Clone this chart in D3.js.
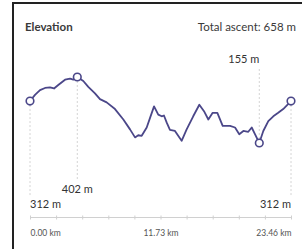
<!DOCTYPE html>
<html>
<head>
<meta charset="utf-8">
<script src="https://cdn.jsdelivr.net/npm/d3@7"></script>
<style>
  body { margin: 0; background: #fff; }
  svg { display: block; font-family: Lato, "Open Sans", sans-serif; }
</style>
</head>
<body>
<div id="chart"></div>
<script>
// elevation profile
var distanceKm = [0.00, 0.45, 0.90, 1.35, 1.80, 2.16, 2.54, 3.15, 3.60, 3.89, 4.25, 4.79, 5.24, 5.84,
  6.29, 6.89, 7.64, 8.39, 8.99, 9.44, 9.73, 10.04, 10.49, 10.79, 11.15, 11.53, 11.84, 12.04, 12.29,
  12.58, 13.03, 13.63, 14.08, 14.67, 15.22, 15.64, 16.03, 16.42, 16.84, 17.32, 17.98, 18.43, 18.81,
  19.18, 19.62, 19.93, 20.22, 20.61, 20.97, 21.42, 21.87, 22.31, 22.76, 23.46];
var elevationM = [312, 335, 353, 361, 363, 359, 372, 392, 396, 392, 402, 387, 365, 341,
  319, 307, 282, 243, 206, 176, 184, 182, 213, 249, 292, 261, 255, 258, 231,
  204, 200, 163, 206, 255, 298, 274, 243, 268, 268, 219, 219, 213, 188,
  200, 197, 213, 188, 155, 200, 237, 255, 268, 282, 312];
var tickLabels = ['0.00 km', '11.73 km', '23.46 km'];
var title = 'Elevation';
var totalAscent = 'Total ascent: 658 m';

var W = 302, H = 249;
var lineColor = '#4b4789';

var svg = d3.select('#chart').append('svg').attr('width', W).attr('height', H);

// frame
svg.append('path')
  .attr('d', 'M13,' + H + 'V3H' + W)
  .attr('fill', 'none')
  .attr('stroke', '#222')
  .attr('stroke-width', 2);

svg.append('text').attr('x', 25).attr('y', 31)
  .attr('font-size', 11.5).attr('font-weight', 700).attr('fill', '#3a3a3a')
  .text(title);
svg.append('text').attr('x', 296).attr('y', 31).attr('text-anchor', 'end')
  .attr('font-size', 11.5).attr('fill', '#3a3a3a')
  .text(totalAscent);

var x = d3.scaleLinear().domain([0, d3.max(distanceKm)]).range([30, 291]);
var y = d3.scaleLinear().domain([155, 402]).range([143, 77]);

var data = distanceKm.map(function (d, i) { return { km: d, m: elevationM[i] }; });
var startPt = data[0], endPt = data[data.length - 1];
var peakPt = data[d3.maxIndex(data, function (d) { return d.m; })];
var lowPt = data[d3.minIndex(data, function (d) { return d.m; })];

// dotted guides
var guides = [
  { p: startPt, y2: 196 },
  { p: peakPt, y2: 179 },
  { p: lowPt, y2: 67 },
  { p: endPt, y2: 196 }
];
svg.selectAll('.guide').data(guides).enter().append('line')
  .attr('class', 'guide')
  .attr('x1', function (d) { return x(d.p.km); })
  .attr('x2', function (d) { return x(d.p.km); })
  .attr('y1', function (d) { return y(d.p.m); })
  .attr('y2', function (d) { return d.y2; })
  .attr('stroke', '#d4d4d4')
  .attr('stroke-dasharray', '2,2');

svg.append('path').datum(data)
  .attr('fill', 'none')
  .attr('stroke', lineColor)
  .attr('stroke-width', 1.8)
  .attr('stroke-linejoin', 'round')
  .attr('d', d3.line().x(function (d) { return x(d.km); }).y(function (d) { return y(d.m); }));

svg.selectAll('.mark').data([startPt, peakPt, lowPt, endPt]).enter().append('circle')
  .attr('cx', function (d) { return x(d.km); })
  .attr('cy', function (d) { return y(d.m); })
  .attr('r', 3.8)
  .attr('fill', '#fff')
  .attr('stroke', lineColor)
  .attr('stroke-width', 1.6);

// value labels
var labels = [
  { p: startPt, y: 208, anchor: 'start' },
  { p: peakPt, y: 193, anchor: 'middle' },
  { p: lowPt, y: 63, anchor: 'end' },
  { p: endPt, y: 208, anchor: 'end' }
];
svg.selectAll('.vlabel').data(labels).enter().append('text')
  .attr('x', function (d) { return x(d.p.km); })
  .attr('y', function (d) { return d.y; })
  .attr('text-anchor', function (d) { return d.anchor; })
  .attr('font-size', 11)
  .attr('fill', '#333')
  .text(function (d) { return d.p.m + ' m'; });

// distance axis
var step = d3.max(distanceKm) / 10;
var axis = d3.axisBottom(x)
  .tickValues(d3.range(11).map(function (i) { return i * step; }))
  .tickSize(2)
  .tickFormat(function (d, i) { return i % 5 === 0 ? tickLabels[i / 5] : ''; });
var g = svg.append('g').attr('transform', 'translate(0,217.5)').call(axis);
g.select('.domain').attr('stroke', '#d0d0d0').attr('d', 'M30,0H291');
g.selectAll('.tick line').attr('stroke', '#d0d0d0').attr('y1', -2);
g.selectAll('.tick text')
  .attr('y', 18).attr('dy', 0)
  .attr('font-family', 'Lato, sans-serif')
  .attr('font-size', 8.5)
  .attr('fill', '#555')
  .attr('text-anchor', function (d, i) { return i === 0 ? 'start' : i === 10 ? 'end' : 'middle'; });
</script>
</body>
</html>
